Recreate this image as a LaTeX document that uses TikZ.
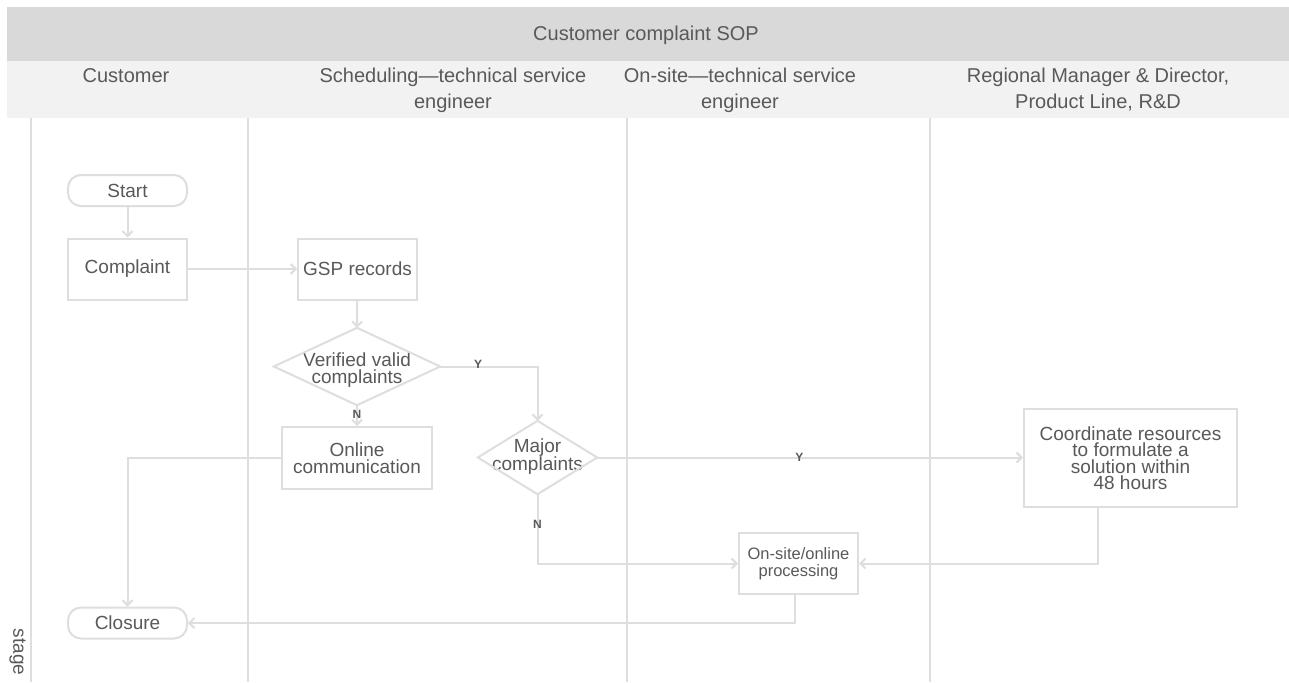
\documentclass[tikz,border=0pt]{standalone}
\usepackage{fontspec}
\setmainfont{Liberation Sans}
\usetikzlibrary{arrows.meta}
\definecolor{barc}{HTML}{D9D9D9}
\definecolor{hdrc}{HTML}{F2F2F2}
\definecolor{linec}{HTML}{DEDEDE}
\definecolor{txtc}{HTML}{595959}
\begin{document}
\begin{tikzpicture}[x=1pt,y=-1pt,
  lane/.style={draw=linec,line width=2pt},
  hdr/.style={text=txtc,font=\fontsize{20}{26}\selectfont,align=center,inner sep=0},
  box/.style={draw=linec,line width=2pt,text=txtc,font=\fontsize{19}{16.5}\selectfont,align=center,inner sep=0,minimum width=119,minimum height=61},
  term/.style={box,rounded corners=13,minimum height=31},
  dec/.style={text=txtc,font=\fontsize{19}{16.5}\selectfont,align=center,inner sep=0},
  decline/.style={draw=linec,line width=2pt,line join=miter},
  conn/.style={draw=linec,line width=2pt,-{Straight Barb[length=5pt,width=10pt]}},
  lbl/.style={text=txtc,font=\bfseries\fontsize{12}{12}\selectfont,inner sep=0}
]
\useasboundingbox (0,0) rectangle (1289,682);
\fill[white] (0,0) rectangle (1289,682);
% header
\fill[barc] (7,7) rectangle (1289,61);
\fill[hdrc] (7,61) rectangle (1289,118);
\node[hdr] (title) at (646,35) {Customer complaint SOP};
\node[hdr] (h1) at (126,76) {Customer};
\node[hdr] (h2) at (453,90) {Scheduling—technical service\\engineer};
\node[hdr] (h3) at (740,90) {On-site—technical service\\engineer};
\node[hdr] (h4) at (1098,90) {Regional Manager \& Director,\\Product Line, R\&D};
% lanes
\draw[lane] (31,118) -- (31,682);
\draw[lane] (248,118) -- (248,682);
\draw[lane] (627,118) -- (627,682);
\draw[lane] (930,118) -- (930,682);
\node[text=txtc,font=\fontsize{19}{19}\selectfont,rotate=-90,inner sep=0] (stage) at (17.5,652) {stage};
% nodes
\node[term] (start) at (127.5,190.5) {Start};
\node[box] (complaint) at (127.5,269) {Complaint};
\node[box] (gsp) at (357.5,269) {GSP records};
\node[minimum width=166,minimum height=77,inner sep=0,
  label={[dec,yshift=-3.5pt]center:{Verified valid\\complaints}}] (verified) at (357,366.5) {};
\draw[decline] (verified.north) -- (verified.east) -- (verified.south) -- (verified.west) -- cycle;
\node[box,minimum width=150,minimum height=62] (online) at (357,458) {Online\\communication};
\node[minimum width=119,minimum height=73,inner sep=0,
  label={[dec,yshift=1pt]center:{Major\\complaints}}] (major) at (537.5,457.5) {};
\draw[decline] (major.north) -- (major.east) -- (major.south) -- (major.west) -- cycle;
\node[box,minimum width=213,minimum height=98] (coord) at (1130.5,458) {Coordinate resources\\to formulate a\\solution within\\48 hours};
\node[box,font=\fontsize{16.5}{17}\selectfont] (onsite) at (798.5,563.5) {On-site/online\\processing};
\node[term] (closure) at (127.5,623) {Closure};
% connectors
\draw[conn] (start) -- (complaint);
\draw[conn] (complaint) -- (gsp);
\draw[conn] (gsp) -- (verified.north);
\draw[conn] (verified.south) -- node[lbl,pos=0.45] {N} (online.north);
\draw[conn] (verified.east) -| node[lbl,pos=0.195,yshift=2pt] {Y} (major.north);
\draw[conn] (major.east) -- node[lbl,pos=0.475] {Y} (major.east -| coord.west);
\draw[conn] (major.south) |- node[lbl,pos=0.216] {N} (onsite.west);
\draw[conn] ([xshift=-33pt]coord.south) |- (onsite.east);
\draw[conn] (online.west) -| (closure.north);
\draw[conn] ([xshift=-3.5pt]onsite.south) |- (closure.east);
\end{tikzpicture}
\end{document}
